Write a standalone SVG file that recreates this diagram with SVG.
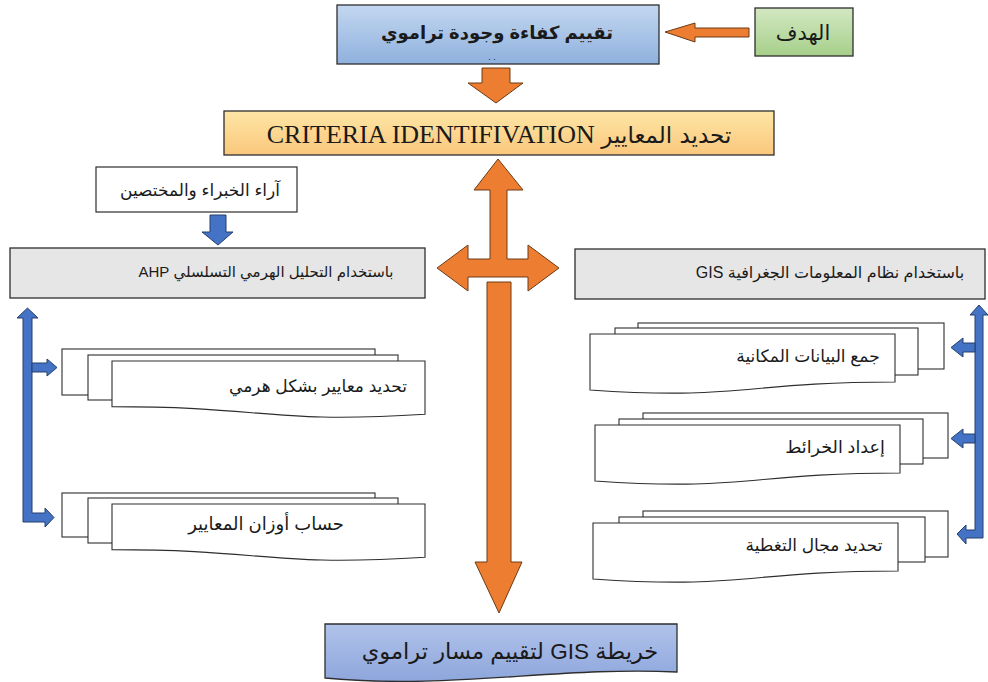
<svg xmlns="http://www.w3.org/2000/svg" width="988" height="682" viewBox="0 0 988 682">
<defs>
<linearGradient id="gBlue" x1="0" y1="0" x2="0" y2="1"><stop offset="0" stop-color="#c3d7f0"/><stop offset="1" stop-color="#8fb1de"/></linearGradient>
<linearGradient id="gGreen" x1="0" y1="0" x2="0" y2="1"><stop offset="0" stop-color="#d3e8c2"/><stop offset="1" stop-color="#a6cf8a"/></linearGradient>
<linearGradient id="gOrange" x1="0" y1="0" x2="0" y2="1"><stop offset="0" stop-color="#fee6a6"/><stop offset="1" stop-color="#fac77c"/></linearGradient>
<linearGradient id="gBlue2" x1="0" y1="0" x2="0" y2="1"><stop offset="0" stop-color="#b0c3ea"/><stop offset="1" stop-color="#8ea6dc"/></linearGradient>
</defs>
<style>
.box{stroke:#2e2e2e;stroke-width:1.3}
.gray{fill:#e7e6e6;stroke:#2e2e2e;stroke-width:1.3}
.doc{fill:#ffffff;stroke:#2e2e2e;stroke-width:1.1}
.oa{fill:#ed7d31;stroke:#6b3c17;stroke-width:1}
.ba{fill:#4472c4;stroke:#24406f;stroke-width:1}
.ar{font-family:"Liberation Sans","DejaVu Sans",sans-serif;fill:#1a1a1a}
.rtl{direction:rtl;unicode-bidi:embed}
</style>

<g id="goal-main">
<rect class="box" x="337" y="5" width="322" height="59" fill="url(#gBlue)"/>
<text class="ar rtl" x="497" y="39" font-size="18" font-weight="bold" text-anchor="middle">تقييم كفاءة وجودة تراموي</text>
<text class="ar" x="492" y="60" font-size="9" text-anchor="middle">. .</text>
</g>

<g id="goal-label">
<rect class="box" x="755" y="8" width="98" height="48" fill="url(#gGreen)"/>
<text class="ar rtl" x="803" y="40" font-size="21" text-anchor="middle">الهدف</text>
</g>

<g id="criteria">
<rect class="box" x="224" y="111" width="550" height="44" fill="url(#gOrange)"/>
<text x="499" y="143" font-size="26" text-anchor="middle" font-family="'Liberation Serif','DejaVu Sans',serif" fill="#1a1a1a">CRITERIA IDENTIFIVATION <tspan font-size="23" font-family="'DejaVu Sans',sans-serif">تحديد المعايير</tspan></text>
</g>

<g id="experts">
<rect x="96" y="167" width="201" height="45" fill="#ffffff" stroke="#2e2e2e" stroke-width="1.2"/>
<text class="ar rtl" x="200" y="196" font-size="17" text-anchor="middle">آراء الخبراء والمختصين</text>
</g>

<g id="ahp">
<rect class="gray" x="10" y="248" width="415" height="50"/>
<text class="ar rtl" x="266" y="277" font-size="15" text-anchor="middle">باستخدام التحليل الهرمي التسلسلي AHP</text>
</g>

<g id="gis">
<rect class="gray" x="575" y="249" width="410" height="50"/>
<text class="ar rtl" x="830" y="278" font-size="16" text-anchor="middle">باستخدام نظام المعلومات الجغرافية  GIS</text>
</g>

<g id="ahp-doc1">
<rect class="doc" x="62" y="349" width="313" height="46"/>
<rect class="doc" x="88" y="355" width="310" height="45"/>
<path class="doc" d="M425,361 H112 V406.6 C268.5,406.6 268.5,424.1 425,414.2 Z"/>
<text class="ar rtl" x="318" y="392" font-size="17" text-anchor="middle">تحديد معايير بشكل هرمي</text>
</g>

<g id="ahp-doc2">
<rect class="doc" x="62" y="493" width="313" height="44"/>
<rect class="doc" x="88" y="498" width="310" height="45"/>
<path class="doc" d="M425,504 H112 V549.6 C268.5,549.6 268.5,567.1 425,557.2 Z"/>
<text class="ar rtl" x="266" y="530" font-size="18" text-anchor="middle">حساب أوزان المعايير</text>
</g>

<g id="gis-doc1">
<rect class="doc" x="638" y="323" width="306" height="46"/>
<rect class="doc" x="615" y="328" width="303" height="47"/>
<path class="doc" d="M590,334 H895 V382 C742.5,382 742.5,400.4 590,390 Z"/>
<text class="ar rtl" x="808" y="362" font-size="17" text-anchor="middle">جمع البيانات المكانية</text>
</g>

<g id="gis-doc2">
<rect class="doc" x="643" y="413" width="305" height="45"/>
<rect class="doc" x="619" y="419" width="304" height="45"/>
<path class="doc" d="M595,425 H900 V473 C747.5,473 747.5,491.4 595,481 Z"/>
<text class="ar rtl" x="835" y="453" font-size="17.5" text-anchor="middle">إعداد الخرائط</text>
</g>

<g id="gis-doc3">
<rect class="doc" x="643" y="511" width="305" height="46"/>
<rect class="doc" x="619" y="517" width="306" height="45"/>
<path class="doc" d="M593,523 H898 V571 C745.5,571 745.5,589.4 593,579 Z"/>
<text class="ar rtl" x="814" y="551" font-size="17" text-anchor="middle">تحديد مجال التغطية</text>
</g>

<g id="result">
<path class="box" d="M325,624 H677 V672 C560,666 450,690 325,678 Z" fill="url(#gBlue2)"/>
<text class="ar rtl" x="510" y="659" font-size="22.5" text-anchor="middle">خريطة GIS لتقييم مسار تراموي</text>
</g>

<g id="connectors">
<path class="oa" d="M665,32 L695,23 V28 H749 V37 H695 V42 Z"/>
<path class="oa" d="M482,68 H510 V83 H523 L496,103 L468,83 H482 Z"/>
<path class="oa" d="M498,159 L523,190 L507,190 L507,259 L528,259 L528,245 L559,268 L528,291 L528,277 L468,277 L468,291 L437,268 L468,245 L468,259 L490,259 L490,190 L474,190 Z"/>
<path class="oa" d="M487,282 H511 V562 H522 L499,613 L475,562 H487 Z"/>
<path class="ba" d="M210,215 H226 V232 H233 L218,245 L202,232 H210 Z"/>
<path class="ba" d="M27.5,308 L38,318 H32 V513 H45 V508 L54,517.5 L45,527 V522 H23 V318 H17 Z"/>
<path class="ba" d="M32,363 H47 V359 L57,367.5 L47,376 V372 H32 Z"/>
<path class="ba" d="M979,305 L988,315 H983 V538 H966 V544 L957,534 L966,525 V530 H975 V315 H970 Z"/>
<path class="ba" d="M975,343 H963 V338 L951,347.5 L963,357 V352 H975 Z"/>
<path class="ba" d="M975,434 H963 V429 L951,438.5 L963,448 V443 H975 Z"/>
</g>
</svg>
